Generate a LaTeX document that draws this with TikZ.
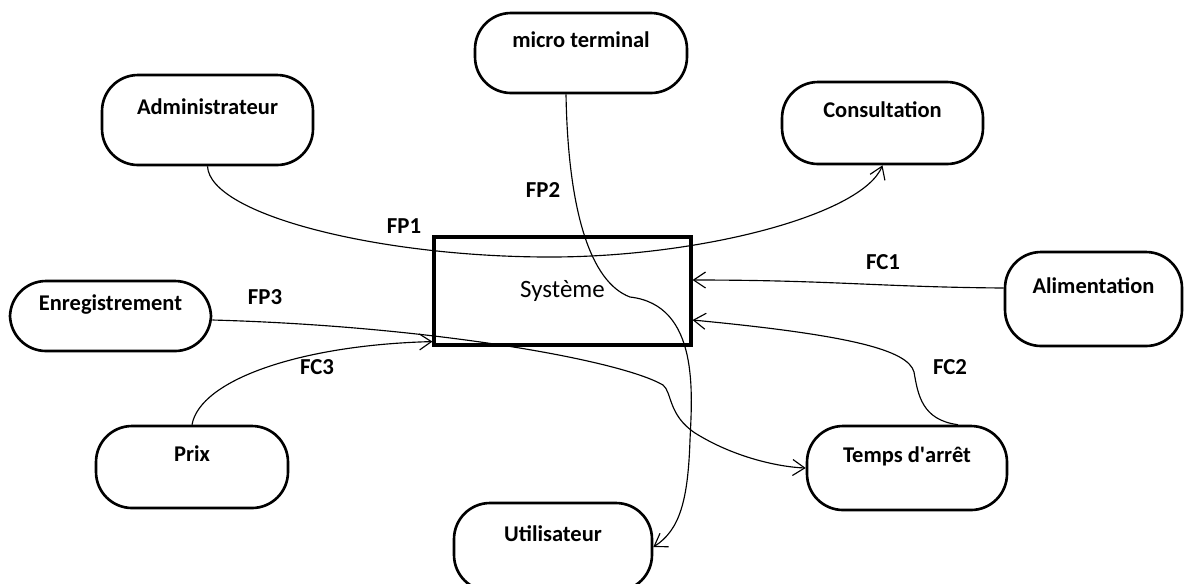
\documentclass[tikz,border=0pt]{standalone}
\usepackage{fontspec}
\setmainfont{Carlito}
\newfontfamily\aposfont{Carlito}
\usetikzlibrary{arrows.meta}

\begin{document}
\begin{tikzpicture}[x=0.02cm, y=-0.02cm,
% Node styles
 box/.style={draw, line width=1.5pt, rounded corners=0.72cm, inner sep=0pt,
 font=\fontsize{12.8}{15}\selectfont\bfseries, text height=0.3cm, text depth=0.54cm},
 sys/.style={draw, line width=1.8pt, font=\fontsize{14.2}{16}\selectfont,
 minimum width=5.14cm, minimum height=2.16cm},
% Edge styles
 flow/.style={draw, line width=0.65pt, -{Straight Barb[length=0.24cm, width=0.32cm]}},
% Label styles
 flowlbl/.style={font=\fontsize{13}{15}\selectfont\bfseries}
]
\useasboundingbox (0,0) rectangle (1186,583);
% Central system
\node[sys] (systeme) at (562.5,291) {Système\hspace{0.45cm}};
% Surrounding elements
\node[box, minimum width=4.22cm, minimum height=1.8cm] (admin) at (207.5,120) {Administrateur};
\node[box, minimum width=4.24cm, minimum height=1.6cm] (micro) at (581,53) {micro terminal};
\node[box, minimum width=4.02cm, minimum height=1.64cm] (consult) at (882.5,123) {Consultation};
\node[box, minimum width=4.02cm, minimum height=1.4cm] (enreg) at (110.5,316) {Enregistrement};
\node[box, minimum width=3.54cm, minimum height=1.88cm] (alim) at (1093.5,299) {Alimentation};
\node[box, minimum width=3.84cm, minimum height=1.64cm] (prix) at (192,467) {Prix};
\node[box, minimum width=4.0cm, minimum height=1.68cm] (temps) at (907,468) {Temps d{\aposfont'}arrêt};
\node[box, minimum width=3.96cm, minimum height=1.76cm] (util) at (553,547) {Utilisateur};
% Principal functions
\draw[flow] (admin.south) .. controls (210,215) and (380,257) .. (550,257)
 .. controls (700,257) and (862,215) .. (consult.south);
\draw[flow] ([xshift=-0.3cm]micro.south) .. controls (568,210) and (590,282) .. (630,297)
 .. controls (700,305) and (692,395) .. (690,440)
 .. controls (688,500) and (680,530) .. (util.east);
\draw[flow] ([yshift=-0.08cm]enreg.east) .. controls (430,326) and (620,360) .. (663,385)
 .. controls (672,392) and (668,415) .. (695,433)
 .. controls (735,458) and (780,467) .. (temps.west);
% Constraint functions
\draw[flow] ([yshift=0.22cm]alim.west) .. controls (880,287) and (830,280) .. ([yshift=0.22cm]systeme.east);
\draw[flow] ([xshift=1.02cm]temps.north) .. controls (922,420) and (918,395) .. (914,372)
 .. controls (908,350) and (850,335) .. ([yshift=-0.58cm]systeme.east);
\draw[flow] (prix.north) .. controls (200,380) and (300,345) .. ([yshift=0.1cm]systeme.south west);
% Function labels
\node[flowlbl] (fp1) at (404,226) {FP1};
\node[flowlbl] (fp2) at (543,190) {FP2};
\node[flowlbl] (fp3) at (265,297) {FP3};
\node[flowlbl] (fc1) at (883,262) {FC1};
\node[flowlbl] (fc2) at (950,367) {FC2};
\node[flowlbl] (fc3) at (317,367) {FC3};
\end{tikzpicture}
\end{document}
